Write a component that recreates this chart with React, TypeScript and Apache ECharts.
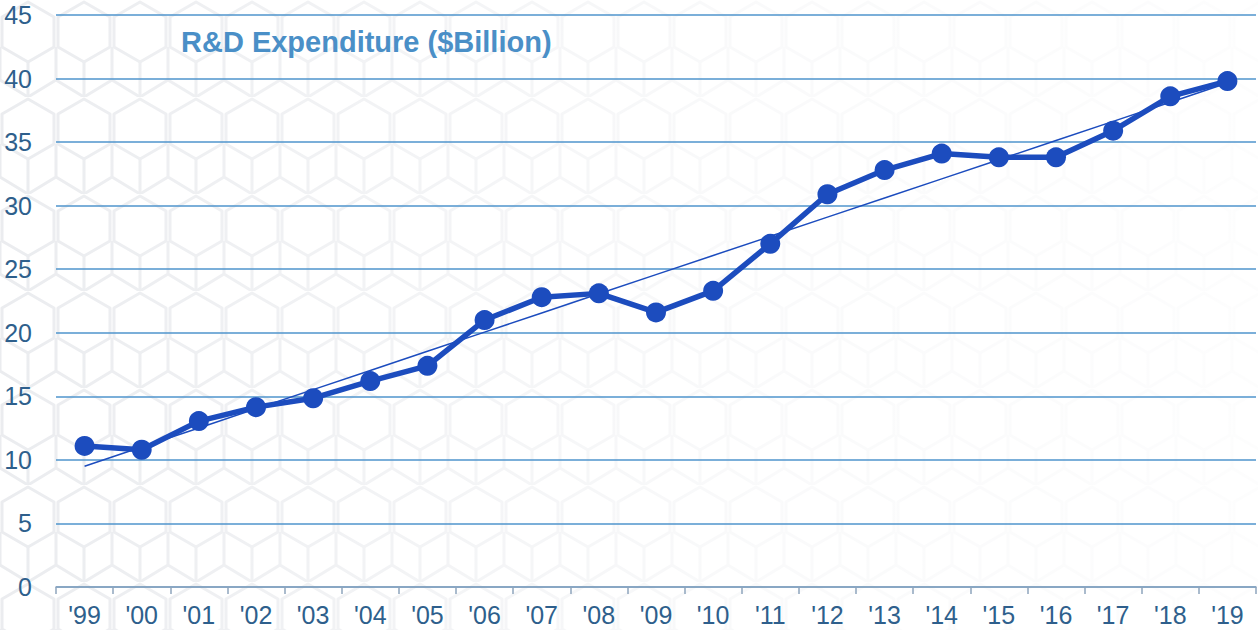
import React, { useEffect, useRef } from "react";
import * as echarts from "echarts";

const categories = ["'99", "'00", "'01", "'02", "'03", "'04", "'05", "'06", "'07", "'08", "'09", "'10", "'11", "'12", "'13", "'14", "'15", "'16", "'17", "'18", "'19"];
const expenditure = [11.1, 10.8, 13.05, 14.15, 14.85, 16.2, 17.4, 21.0, 22.8, 23.1, 21.6, 23.3, 27.0, 30.9, 32.8, 34.1, 33.8, 33.8, 35.9, 38.6, 39.8];
const titleText = "R&D Expenditure ($Billion)";

function linearTrend(values: number[]): number[] {
  const n = values.length;
  const mx = (n - 1) / 2;
  const my = values.reduce((a, b) => a + b, 0) / n;
  let sxy = 0;
  let sxx = 0;
  values.forEach((v, i) => {
    sxy += (i - mx) * (v - my);
    sxx += (i - mx) * (i - mx);
  });
  const slope = sxy / sxx;
  return values.map((_, i) => my + slope * (i - mx));
}

const hexSvg =
  "<svg xmlns='http://www.w3.org/2000/svg' width='56' height='97'>" +
  "<g fill='none' stroke='%23e4e6ea' stroke-width='3' stroke-linejoin='round'>" +
  "<path d='M28 2 L54 17 L54 47 L28 62 L2 47 L2 17 Z'/>" +
  "<path d='M28 62 L28 97 M0 80 L-26 65 M56 80 L82 65'/>" +
  "<path d='M0 47 L0 80 L-26 95 M56 47 L56 80 L82 95 M0 80 L28 97 M56 80 L28 97'/>" +
  "</g></svg>";

const FONT = "Liberation Sans, Arial, sans-serif";

export default function App() {
  const ref = useRef<HTMLDivElement>(null);

  useEffect(() => {
    if (!ref.current) return;
    const chart = echarts.init(ref.current, undefined, { renderer: "svg" });
    const trend = linearTrend(expenditure);
    chart.setOption({
      animation: false,
      grid: { left: 56, right: 2, top: 15, bottom: 43, containLabel: false },
      title: {
        text: titleText,
        left: 181,
        top: 27,
        padding: 0,
        textStyle: {
          color: "#4a8fc7",
          fontSize: 29,
          fontWeight: "bold",
          fontFamily: FONT,
        },
      },
      xAxis: {
        type: "category",
        data: categories,
        boundaryGap: true,
        axisLine: { lineStyle: { color: "#8ea5bd", width: 1.5 } },
        axisTick: { show: true, length: 7, lineStyle: { color: "#8ea5bd", width: 1.5 } },
        axisLabel: {
          color: "#2e5f8c",
          fontSize: 25,
          margin: 15,
          fontFamily: FONT,
        },
        splitLine: { show: false },
      },
      yAxis: {
        type: "value",
        min: 0,
        max: 45,
        interval: 5,
        axisLine: { show: false },
        axisTick: { show: false },
        axisLabel: {
          color: "#2e5f8c",
          fontSize: 25,
          margin: 24,
          fontFamily: FONT,
        },
        splitLine: { lineStyle: { color: "#4f95cc", width: 1.5 } },
      },
      series: [
        {
          type: "line",
          data: trend,
          symbol: "none",
          lineStyle: { color: "#1c4cbe", width: 1.5 },
          z: 2,
          silent: true,
        },
        {
          type: "line",
          data: expenditure,
          symbol: "circle",
          symbolSize: 20,
          lineStyle: { color: "#1c4cbe", width: 5.5 },
          itemStyle: { color: "#1c4cbe" },
          z: 3,
        },
      ],
    });
    return () => chart.dispose();
  }, []);

  return (
    <div
      style={{
        position: "absolute",
        left: 0,
        top: 0,
        width: 1258,
        height: 630,
        backgroundColor: "#ffffff",
        backgroundImage:
          "linear-gradient(to right, rgba(255,255,255,0.25), rgba(255,255,255,0.8) 60%, rgba(255,255,255,0.92)), url(\"data:image/svg+xml;utf8," +
          hexSvg +
          "\")",
      }}
    >
      <div ref={ref} style={{ width: 1258, height: 630 }} />
    </div>
  );
}
